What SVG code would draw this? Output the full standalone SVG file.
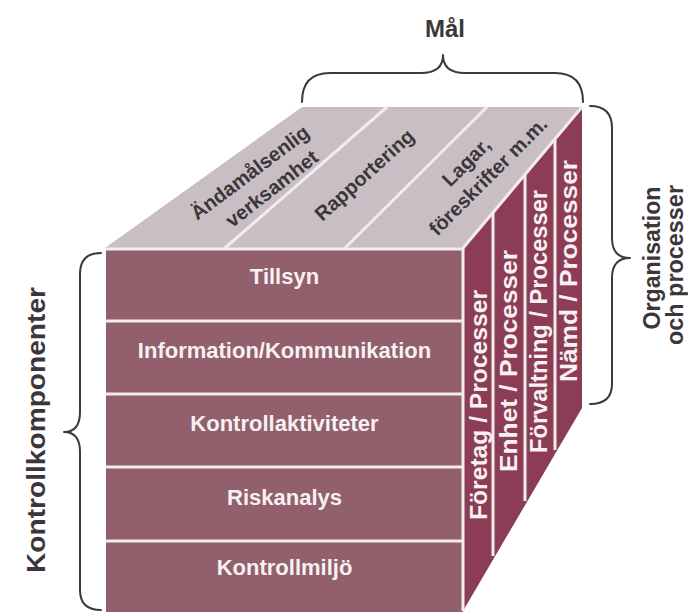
<svg xmlns="http://www.w3.org/2000/svg" width="688" height="615" viewBox="0 0 688 615">
<style>
.lbl{font-family:"Liberation Sans",Arial,sans-serif;font-weight:bold}
.w{fill:#f7f1f3}
.d{fill:#3b3739}
.front{fill:#925f6d}
.side{fill:#8c3d55}
.top{fill:#c9bec3}
.sep{stroke:#f3ecee;stroke-width:3;fill:none}
.brace{stroke:#3a3a3a;stroke-width:2;fill:none;stroke-linecap:round;stroke-linejoin:round}
</style>
<rect width="688" height="615" fill="#ffffff"/>

<g id="top-face">
  <polygon class="top" points="105,248 463,248 582,107 302,107"/>
  <line class="sep" x1="225" y1="248" x2="387" y2="107"/>
  <line class="sep" x1="345" y1="248" x2="487" y2="107"/>
</g>
<g id="goal-andamalsenlig">
  <text class="lbl d" font-size="20" text-anchor="middle" transform="translate(254,178) rotate(-37)">Ändamålsenlig</text>
  <text class="lbl d" font-size="20" text-anchor="middle" transform="translate(276,194) rotate(-38)">verksamhet</text>
</g>
<g id="goal-rapportering">
  <text class="lbl d" font-size="20" text-anchor="middle" transform="translate(369,180) rotate(-42)">Rapportering</text>
</g>
<g id="goal-lagar">
  <text class="lbl d" font-size="20" text-anchor="middle" transform="translate(471,167) rotate(-45)">Lagar,</text>
  <text class="lbl d" font-size="20" text-anchor="middle" transform="translate(493,181) rotate(-45)">föreskrifter m.m.</text>
</g>

<g id="row-tillsyn">
  <rect class="front" x="106" y="249" width="357" height="72"/>
  <text class="lbl w" font-size="22" x="284.5" y="284" text-anchor="middle">Tillsyn</text>
</g>
<g id="row-information">
  <rect class="front" x="106" y="321" width="357" height="73"/>
  <text class="lbl w" font-size="22" x="284.5" y="358" text-anchor="middle">Information/Kommunikation</text>
</g>
<g id="row-kontrollaktiviteter">
  <rect class="front" x="106" y="394" width="357" height="73"/>
  <text class="lbl w" font-size="22" x="284.5" y="431" text-anchor="middle">Kontrollaktiviteter</text>
</g>
<g id="row-riskanalys">
  <rect class="front" x="106" y="467" width="357" height="74"/>
  <text class="lbl w" font-size="22" x="284.5" y="505" text-anchor="middle">Riskanalys</text>
</g>
<g id="row-kontrollmiljo">
  <rect class="front" x="106" y="541" width="357" height="71"/>
  <text class="lbl w" font-size="22" x="284.5" y="575" text-anchor="middle">Kontrollmiljö</text>
</g>

<g id="strip-foretag">
  <polygon class="side" points="463,248 493,212.5 493,559.8 463,611"/>
  <text class="lbl w" font-size="23" text-anchor="middle" textLength="230" lengthAdjust="spacingAndGlyphs" transform="translate(487,405) rotate(-90)">Företag / Processer</text>
</g>
<g id="strip-enhet">
  <polygon class="side" points="493,212.5 525,174.5 525,505.2 493,559.8"/>
  <text class="lbl w" font-size="23" text-anchor="middle" textLength="222" lengthAdjust="spacingAndGlyphs" transform="translate(517,361) rotate(-90)">Enhet / Processer</text>
</g>
<g id="strip-forvaltning">
  <polygon class="side" points="525,174.5 555,139 555,454 525,505.2"/>
  <text class="lbl w" font-size="23" text-anchor="middle" textLength="263" lengthAdjust="spacingAndGlyphs" transform="translate(547,321.5) rotate(-90)">Förvaltning / Processer</text>
</g>
<g id="strip-namd">
  <polygon class="side" points="555,139 582,107 582,408 555,454"/>
  <text class="lbl w" font-size="23" text-anchor="middle" textLength="222" lengthAdjust="spacingAndGlyphs" transform="translate(577,271) rotate(-90)">Nämd / Processer</text>
</g>

<g id="separators">
  <line class="sep" x1="106" y1="249" x2="463" y2="249"/>
  <line class="sep" x1="106" y1="321" x2="463" y2="321"/>
  <line class="sep" x1="106" y1="394" x2="463" y2="394"/>
  <line class="sep" x1="106" y1="467" x2="463" y2="467"/>
  <line class="sep" x1="106" y1="541" x2="463" y2="541"/>
  <line class="sep" x1="463" y1="248" x2="463" y2="611"/>
  <line class="sep" x1="463" y1="248" x2="582" y2="107"/>
  <line class="sep" x1="493" y1="213" x2="493" y2="556"/>
  <line class="sep" x1="525" y1="175" x2="525" y2="501"/>
  <line class="sep" x1="555" y1="139" x2="555" y2="450"/>
</g>

<g id="braces">
  <path class="brace" d="M302,102 Q302,73 330,73 L421,73 Q443,73 443,55 Q443,73 465,73 L555,73 Q583,73 583,102"/>
  <path class="brace" d="M590,106 Q612,106 612,128 L612,238 Q612,258 630,258 Q612,258 612,278 L612,384 Q612,404 590,404"/>
  <path class="brace" d="M101,253 Q80,253 80,274 L80,412 Q80,432 64,432 Q80,432 80,452 L80,590 Q80,610 101,610"/>
</g>

<g id="label-mal">
  <text class="lbl d" font-size="24" x="445" y="37" text-anchor="middle">Mål</text>
</g>
<g id="label-kontrollkomponenter">
  <text class="lbl d" font-size="25" text-anchor="middle" textLength="286" lengthAdjust="spacingAndGlyphs" transform="translate(45,430) rotate(-90)">Kontrollkomponenter</text>
</g>
<g id="label-organisation">
  <text class="lbl d" font-size="23" text-anchor="middle" textLength="143" lengthAdjust="spacingAndGlyphs" transform="translate(660,258) rotate(-90)">Organisation</text>
  <text class="lbl d" font-size="23" text-anchor="middle" textLength="160" lengthAdjust="spacingAndGlyphs" transform="translate(683,265) rotate(-90)">och processer</text>
</g>
</svg>
